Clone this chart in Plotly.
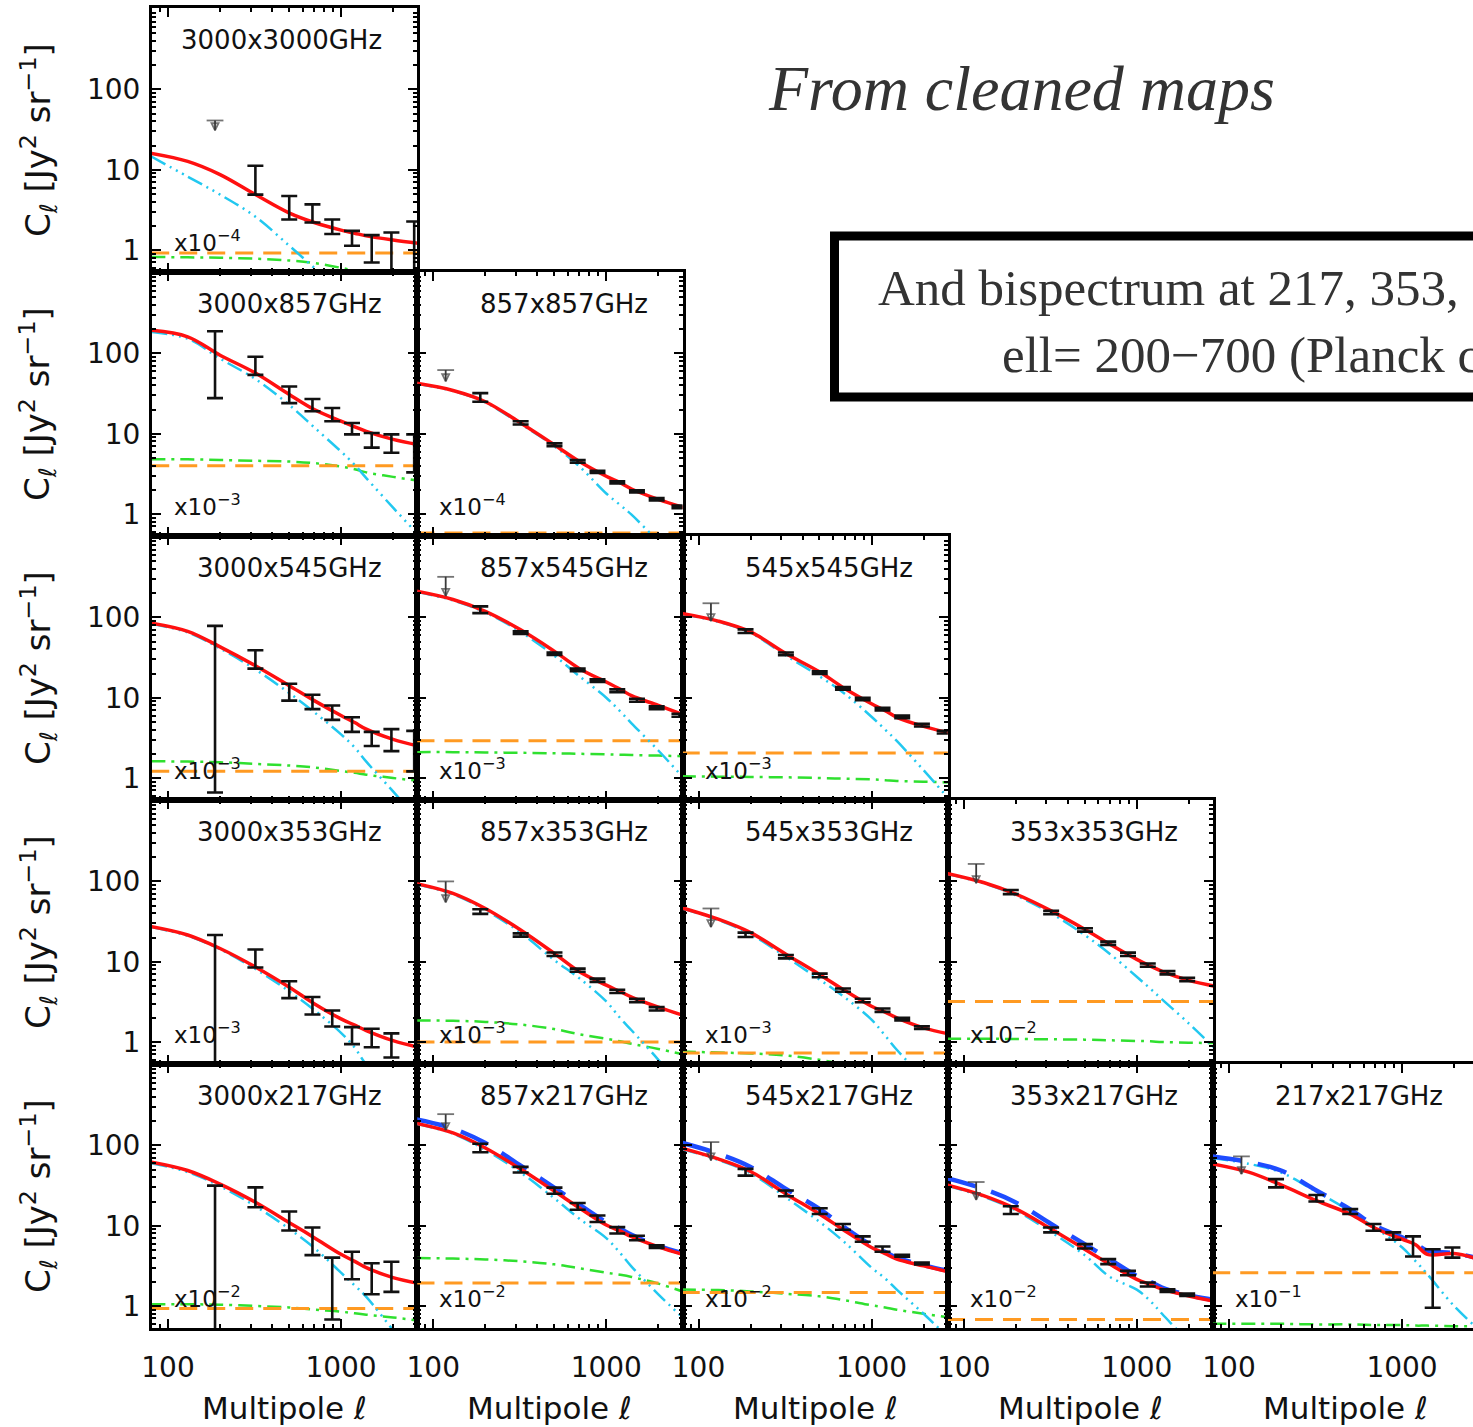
import plotly.graph_objects as go

# ---------------------------------------------------------------------------
# Measured band powers and halo-model fits of the CIB angular power spectra
# (C_ell in Jy^2 sr^-1, shown with the per-panel scale factor)
# ---------------------------------------------------------------------------

# multipole bin centres of the measured band powers
ELL_BINS = [118, 187, 320, 502, 684, 890, 1158, 1505, 1956, 2649]
# multipoles at which the model curves are tabulated
ELL_MODEL = [80, 130, 200, 320, 500, 700, 1000, 1200, 1400, 2000, 2800]

# ---- 3000x3000 GHz (x10^-4)
red_3000x3000 = [16, 12.7, 8.7, 4.9, 2.9, 2.2, 1.77, 1.62, 1.5, 1.33, 1.21]
cyan_3000x3000 = [14.6, 8.2, 4.9, 2.6, 1.14, 0.6, 0.3, 0.2, 0.13, 0.05, 0.02]
green_3000x3000 = [0.82, 0.81, 0.8, 0.78, 0.74, 0.69, 0.6, 0.55, 0.5, 0.4, 0.3]
shot_3000x3000 = 0.92
hi_3000x3000 = [None, None, 11.2, 4.7, 3.7, 2.4, 1.73, 1.53, 1.65, 2.26]
lo_3000x3000 = [None, None, 4.9, 2.4, 2.2, 1.58, 1.13, 0.70, 0.3, 0.3]
lim_3000x3000 = (187, 41, 31)

# ---- 3000x857 GHz (x10^-3)
red_3000x857 = [194, 161, 95, 57, 31, 20, 14.3, 12.2, 10.7, 8.5, 7.3]
cyan_3000x857 = [185, 152, 86, 48, 23, 12, 6.0, 4.1, 2.8, 1.2, 0.55]
green_3000x857 = [4.8, 4.8, 4.7, 4.6, 4.5, 4.3, 3.9, 3.6, 3.3, 2.9, 2.6]
shot_3000x857 = 4.0
hi_3000x857 = [None, 189, 91, 38.7, 27, 20.9, 13.6, 10.2, 9.8, 9.8]
lo_3000x857 = [None, 27.7, 54, 24, 19, 14.3, 9.8, 6.7, 5.8, 3.3]
lim_3000x857 = None

# ---- 857x857 GHz (x10^-4)
red_857x857 = [42.5, 34.5, 25, 13.6, 7.3, 4.5, 2.95, 2.45, 2.05, 1.52, 1.2]
cyan_857x857 = [42, 34, 24.5, 13.2, 7.0, 3.9, 1.8, 1.3, 0.98, 0.45, 0.2]
green_857x857 = [0.5, 0.5, 0.5, 0.5, 0.5, 0.5, 0.48, 0.47, 0.46, 0.43, 0.4]
shot_857x857 = 0.58
hi_857x857 = [None, 32, 14.3, 7.6, 4.7, 3.45, 2.55, 1.97, 1.58, 1.27]
lo_857x857 = [None, 25, 13.0, 7.0, 4.35, 3.25, 2.4, 1.85, 1.48, 1.18]
lim_857x857 = (118, 62, 45)

# ---- 3000x545 GHz (x10^-3)
red_3000x545 = [85, 67, 43, 25, 14.2, 9.2, 6.0, 4.9, 4.06, 3.03, 2.5]
cyan_3000x545 = [83, 65, 41, 22.5, 11.5, 6.6, 3.5, 2.4, 1.6, 0.68, 0.3]
green_3000x545 = [1.62, 1.6, 1.57, 1.5, 1.43, 1.35, 1.22, 1.16, 1.1, 1.0, 0.92]
shot_3000x545 = 1.21
hi_3000x545 = [None, 78.5, 39, 14.9, 10.9, 8.0, 5.7, 3.75, 4.06, 3.86]
lo_3000x545 = [None, 0.66, 23, 9.2, 7.2, 5.3, 3.75, 2.5, 2.16, 1.21]
lim_3000x545 = None

# ---- 857x545 GHz (x10^-3)
red_857x545 = [212, 167, 119, 70, 38, 23, 15.7, 12.8, 10.6, 8.0, 6.1]
cyan_857x545 = [208, 163, 115, 66, 33.5, 18.5, 10, 6.8, 4.8, 2.2, 1.0]
green_857x545 = [2.1, 2.1, 2.08, 2.06, 2.03, 2.0, 1.97, 1.95, 1.93, 1.9, 1.87]
shot_857x545 = 2.9
hi_857x545 = [None, 137, 67, 36.6, 23, 16.9, 12.7, 9.7, 7.8, 6.3]
lo_857x545 = [None, 113, 62, 34, 21.4, 15.7, 11.7, 8.9, 7.2, 5.8]
lim_857x545 = (118, 320, 185)

# ---- 545x545 GHz (x10^-3)
red_545x545 = [112, 90, 66, 35.5, 21, 13, 8.4, 6.9, 5.7, 4.4, 3.65]
cyan_545x545 = [110, 88, 64, 33.5, 18.5, 11.2, 5.8, 4.0, 2.9, 1.25, 0.55]
green_545x545 = [1.05, 1.04, 1.03, 1.02, 1.0, 0.98, 0.96, 0.94, 0.92, 0.9, 0.88]
shot_545x545 = 2.05
hi_545x545 = [None, 71, 36.5, 21.3, 13.6, 10, 7.5, 6.0, 4.73, 3.87]
lo_545x545 = [None, 64, 33.8, 19.8, 12.6, 9.3, 6.95, 5.57, 4.38, 3.58]
lim_545x545 = (118, 150, 90)

# ---- 3000x353 GHz (x10^-3)
red_3000x353 = [27.3, 21.5, 14.6, 8.6, 4.84, 3.0, 1.94, 1.62, 1.39, 1.04, 0.86]
cyan_3000x353 = [27, 21, 14.3, 8.1, 4.3, 2.5, 1.3, 0.85, 0.52, 0.22, 0.1]
green_3000x353 = [0.33, 0.33, 0.33, 0.32, 0.3, 0.28, 0.25, 0.24, 0.22, 0.2, 0.18]
shot_3000x353 = 0.42
hi_3000x353 = [None, 21.5, 14.2, 5.7, 3.63, 2.47, 1.53, 1.46, 1.28, None]
lo_3000x353 = [None, 0.3, 8.45, 3.52, 2.2, 1.56, 0.94, 0.86, 0.64, None]
lim_3000x353 = None

# ---- 857x353 GHz (x10^-3)
red_857x353 = [94, 71, 46, 24.8, 12.7, 7.5, 5.1, 4.25, 3.63, 2.72, 2.14]
cyan_857x353 = [92, 69, 44, 23, 10.5, 6.2, 3.2, 2.0, 1.4, 0.6, 0.25]
green_857x353 = [1.85, 1.84, 1.78, 1.65, 1.45, 1.25, 1.1, 1.02, 0.95, 0.82, 0.7]
shot_857x353 = 1.0
hi_857x353 = [None, 45, 22.5, 13.0, 8.2, 6.15, 4.48, 3.46, 2.72, None]
lo_857x353 = [None, 39.4, 20.5, 11.8, 7.5, 5.6, 4.07, 3.14, 2.47, None]
lim_857x353 = (118, 100, 55)

# ---- 545x353 GHz (x10^-3)
red_545x353 = [47, 33.8, 23, 12.4, 6.95, 4.38, 2.79, 2.35, 2.0, 1.5, 1.26]
cyan_545x353 = [46, 33, 22, 11.5, 6.0, 3.6, 1.9, 1.2, 0.8, 0.35, 0.15]
green_545x353 = [0.76, 0.74, 0.72, 0.68, 0.6, 0.53, 0.46, 0.42, 0.38, 0.3, 0.22]
shot_545x353 = 0.73
hi_545x353 = [None, 23, 12.1, 7.1, 4.64, 3.45, 2.61, 2.0, 1.57, None]
lo_545x353 = [None, 20.3, 11.0, 6.4, 4.22, 3.13, 2.37, 1.85, 1.45, None]
lim_545x353 = (118, 46, 27)

# ---- 353x353 GHz (x10^-2)
red_353x353 = [126, 97, 69.5, 43, 25.4, 16.5, 10.7, 8.8, 7.6, 5.85, 4.97]
cyan_353x353 = [124, 95, 67, 40, 21.5, 12.5, 6.5, 4.6, 3.4, 1.7, 0.85]
green_353x353 = [1.1, 1.1, 1.09, 1.08, 1.07, 1.05, 1.03, 1.02, 1.0, 0.98, 0.97]
shot_353x353 = 3.2
hi_353x353 = [None, 78, 43, 26.1, 17.8, 12.96, 9.5, 7.64, 6.3, None]
lo_353x353 = [None, 69.5, 39, 23.7, 16.2, 11.8, 8.66, 6.95, 5.73, None]
lim_353x353 = (118, 165, 95)

# ---- 3000x217 GHz (x10^-2)
red_3000x217 = [62, 48.7, 33, 19.6, 11, 7.1, 4.4, 3.6, 3.0, 2.26, 1.92]
cyan_3000x217 = [60, 46.5, 31, 17.5, 9.2, 5.3, 2.6, 1.8, 1.3, 0.5, 0.2]
green_3000x217 = [1.05, 1.05, 1.04, 1.0, 0.96, 0.9, 0.85, 0.81, 0.78, 0.72, 0.66]
shot_3000x217 = 0.93
hi_3000x217 = [None, 31.6, 30, 15, 9.5, 4.0, 4.73, 3.4, 3.55, None]
lo_3000x217 = [None, 0.3, 17, 8.7, 4.3, 0.68, 2.15, 1.4, 1.5, None]
lim_3000x217 = None

# ---- 857x217 GHz (x10^-2)
red_857x217 = [188, 143, 93, 50.7, 27, 16.6, 10.2, 8.6, 7.3, 5.45, 4.37]
blue_857x217 = [211, 162, 107, 56, 29.8, 18.3, 11.1, 9.2, 7.7, 5.6, 4.5]
cyan_857x217 = [185, 140, 88, 46, 22, 12.2, 7.0, 4.6, 3.1, 1.4, 0.7]
green_857x217 = [3.95, 3.9, 3.8, 3.6, 3.3, 2.95, 2.6, 2.45, 2.3, 1.9, 1.5]
shot_857x217 = 1.93
hi_857x217 = [None, 105, 54, 29.8, 19.2, 13.4, 9.6, 7.5, 5.7, None]
lo_857x217 = [None, 82, 46, 25, 15.8, 11.1, 8.0, 6.6, 5.3, None]
lim_857x217 = (118, 245, 155)

# ---- 545x217 GHz (x10^-2)
red_545x217 = [92.6, 68, 47.3, 24.9, 14, 8.66, 5.36, 4.5, 3.83, 3.16, 2.66]
blue_545x217 = [108, 79, 54, 28.7, 16.2, 9.5, 5.7, 4.7, 4.0, 3.22, 2.74]
cyan_545x217 = [90, 66, 45, 22.5, 11.2, 6.2, 3.0, 2.2, 1.6, 0.8, 0.4]
green_545x217 = [1.6, 1.58, 1.52, 1.42, 1.32, 1.18, 1.02, 0.96, 0.9, 0.8, 0.72]
shot_545x217 = 1.47
hi_545x217 = [None, 51, 27.4, 16.5, 10.5, 7.36, 5.5, 4.34, 3.48, None]
lo_545x217 = [None, 42, 23.3, 14.0, 8.9, 6.3, 4.73, 4.1, 3.29, None]
lim_545x217 = (118, 110, 65)

# ---- 353x217 GHz (x10^-2)
red_353x217 = [32.2, 23.7, 16.2, 9.1, 5.1, 3.3, 2.15, 1.85, 1.62, 1.33, 1.15]
blue_353x217 = [39, 28.7, 19.5, 10.5, 5.9, 3.8, 2.37, 2.0, 1.7, 1.36, 1.19]
cyan_353x217 = [31.5, 23, 15.5, 8.3, 4.3, 2.3, 1.6, 1.15, 0.8, 0.35, 0.15]
green_353x217 = [0.35, 0.35, 0.34, 0.34, 0.33, 0.33, 0.32, 0.32, 0.31, 0.3, 0.3]
shot_353x217 = 0.68
hi_353x217 = [None, 17.5, 9.5, 5.9, 3.83, 2.74, 1.96, 1.62, 1.43, None]
lo_353x217 = [None, 14.0, 8.26, 5.2, 3.32, 2.42, 1.75, 1.5, 1.33, None]
lim_353x217 = (118, 35, 21)

# ---- 217x217 GHz (x10^-1)
red_217x217 = [59, 46.4, 32.2, 20.5, 14, 9.3, 6.8, 5.8, 4.4, 4.5, 3.8]
blue_217x217 = [73, 62, 48.7, 27.4, 16.1, 10, 7.15, 5.9, 4.9, 4.55, 3.9]
cyan_217x217 = [70, 59, 46, 26.5, 15.2, 9.4, 5.4, 3.6, 2.5, 1.0, 0.5]
green_217x217 = [0.6, 0.6, 0.6, 0.59, 0.59, 0.58, 0.58, 0.57, 0.57, 0.56, 0.56]
shot_217x217 = 2.6
hi_217x217 = [None, 38, 24.1, 16.1, 10.5, 8.26, 7.36, 5.1, 5.36, None]
lo_217x217 = [None, 30, 20, 14, 8.66, 6.68, 4.14, 0.95, 4.0, None]
lim_217x217 = (118, 73, 44)

# panel grid: (row, col, title, scale exponent, red, cyan, green, shot, hi, lo, limit, blue)
PANELS = [
    (0, 0, "3000x3000GHz", "4", red_3000x3000, cyan_3000x3000, green_3000x3000, shot_3000x3000, hi_3000x3000, lo_3000x3000, lim_3000x3000, None),
    (1, 0, "3000x857GHz", "3", red_3000x857, cyan_3000x857, green_3000x857, shot_3000x857, hi_3000x857, lo_3000x857, lim_3000x857, None),
    (1, 1, "857x857GHz", "4", red_857x857, cyan_857x857, green_857x857, shot_857x857, hi_857x857, lo_857x857, lim_857x857, None),
    (2, 0, "3000x545GHz", "3", red_3000x545, cyan_3000x545, green_3000x545, shot_3000x545, hi_3000x545, lo_3000x545, lim_3000x545, None),
    (2, 1, "857x545GHz", "3", red_857x545, cyan_857x545, green_857x545, shot_857x545, hi_857x545, lo_857x545, lim_857x545, None),
    (2, 2, "545x545GHz", "3", red_545x545, cyan_545x545, green_545x545, shot_545x545, hi_545x545, lo_545x545, lim_545x545, None),
    (3, 0, "3000x353GHz", "3", red_3000x353, cyan_3000x353, green_3000x353, shot_3000x353, hi_3000x353, lo_3000x353, lim_3000x353, None),
    (3, 1, "857x353GHz", "3", red_857x353, cyan_857x353, green_857x353, shot_857x353, hi_857x353, lo_857x353, lim_857x353, None),
    (3, 2, "545x353GHz", "3", red_545x353, cyan_545x353, green_545x353, shot_545x353, hi_545x353, lo_545x353, lim_545x353, None),
    (3, 3, "353x353GHz", "2", red_353x353, cyan_353x353, green_353x353, shot_353x353, hi_353x353, lo_353x353, lim_353x353, None),
    (4, 0, "3000x217GHz", "2", red_3000x217, cyan_3000x217, green_3000x217, shot_3000x217, hi_3000x217, lo_3000x217, lim_3000x217, None),
    (4, 1, "857x217GHz", "2", red_857x217, cyan_857x217, green_857x217, shot_857x217, hi_857x217, lo_857x217, lim_857x217, blue_857x217),
    (4, 2, "545x217GHz", "2", red_545x217, cyan_545x217, green_545x217, shot_545x217, hi_545x217, lo_545x217, lim_545x217, blue_545x217),
    (4, 3, "353x217GHz", "2", red_353x217, cyan_353x217, green_353x217, shot_353x217, hi_353x217, lo_353x217, lim_353x217, blue_353x217),
    (4, 4, "217x217GHz", "1", red_217x217, cyan_217x217, green_217x217, shot_217x217, hi_217x217, lo_217x217, lim_217x217, blue_217x217),
]

X_TICKS = [100, 1000]
X_MINOR = [90, 200, 300, 400, 500, 600, 700, 800, 900, 2000]
Y_TICKS = [1, 10, 100]
Y_MINOR = [0.6, 0.7, 0.8, 0.9] + [m * d for d in (1, 10, 100) for m in range(2, 10)]

# ---------------------------------------------------------------------------
# page geometry (pixels)
# ---------------------------------------------------------------------------
W, H = 1473, 1427
COL_LEFT = [152, 417.25, 682.5, 947.75, 1213]
PANEL_W = 265.25
ROW_TOP = [8, 272, 536, 800, 1064]
PANEL_H = 264
PX_PER_DEC_X = 173.0
PX_PER_DEC_Y = 80.3
X_LOG0 = 2 - 16 / PX_PER_DEC_X          # ell = 100 sits 16 px from the left frame
Y_LOG0 = -22 / PX_PER_DEC_Y             # C = 1 sits 22 px above the lower frame

SANS = "DejaVu Sans"
SERIF = "Liberation Serif"
INK = "#111111"

RED = "#ff1010"
BLUE = "#1e4cff"
CYAN = "#22c8f0"
ORANGE = "#ff9a22"
GREEN = "#2fe02f"
LIMIT = "#3a3a3a"

fig = go.Figure()
layout = dict(
    width=W, height=H,
    margin=dict(l=0, r=0, t=0, b=0, pad=0, autoexpand=False),
    paper_bgcolor="white", plot_bgcolor="white",
    showlegend=False,
)
annotations = []

for n, (row, col, title, power, red, cyan, green, shot, hi, lo, lim, blue) in enumerate(PANELS, start=1):
    xref = "x" if n == 1 else f"x{n}"
    yref = "y" if n == 1 else f"y{n}"
    x0 = COL_LEFT[col]
    x1 = min(x0 + PANEL_W, W)
    y0 = ROW_TOP[row]
    y1 = y0 + PANEL_H
    last_col = x1 >= W

    layout["xaxis" if n == 1 else f"xaxis{n}"] = dict(
        type="log", domain=[x0 / W, x1 / W],
        range=[X_LOG0, X_LOG0 + (x1 - x0) / PX_PER_DEC_X],
        anchor=yref, showline=True, linecolor="black", linewidth=3, mirror="ticks",
        ticks="inside", ticklen=9, tickwidth=2, tickcolor="black",
        tickmode="array", tickvals=X_TICKS, ticktext=["100", "1000"],
        showticklabels=(row == 4), ticklabelstandoff=12, automargin=False,
        tickfont=dict(family=SANS, size=28, color=INK),
        minor=dict(ticks="inside", ticklen=4, tickwidth=1.5, tickcolor="black",
                   tickmode="array", tickvals=X_MINOR),
        showgrid=False, zeroline=False,
    )
    layout["yaxis" if n == 1 else f"yaxis{n}"] = dict(
        type="log", domain=[1 - y1 / H, 1 - y0 / H],
        range=[Y_LOG0, Y_LOG0 + PANEL_H / PX_PER_DEC_Y],
        anchor=xref, showline=True, linecolor="black", linewidth=3,
        mirror=False if last_col else "ticks",
        ticks="inside", ticklen=9, tickwidth=2, tickcolor="black",
        tickmode="array", tickvals=Y_TICKS, ticktext=["1", "10", "100"],
        showticklabels=(col == 0), ticklabelstandoff=3, automargin=False,
        tickfont=dict(family=SANS, size=28, color=INK),
        minor=dict(ticks="inside", ticklen=4, tickwidth=1.5, tickcolor="black",
                   tickmode="array", tickvals=Y_MINOR),
        showgrid=False, zeroline=False,
    )

    common = dict(xaxis=xref, yaxis=yref, hoverinfo="skip")

    # model components
    fig.add_trace(go.Scatter(x=ELL_MODEL, y=green, mode="lines",
                             line=dict(color=GREEN, width=2.5, dash="14px,6px,3px,6px", shape="spline"), **common))
    fig.add_trace(go.Scatter(x=[ELL_MODEL[0], ELL_MODEL[-1]], y=[shot, shot], mode="lines",
                             line=dict(color=ORANGE, width=3, dash="18px,10px"), **common))
    fig.add_trace(go.Scatter(x=ELL_MODEL, y=cyan, mode="lines",
                             line=dict(color=CYAN, width=2.5, dash="16px,5px,2px,5px,2px,5px,2px,5px",
                                       shape="spline"), **common))
    if blue is not None:
        fig.add_trace(go.Scatter(x=ELL_MODEL, y=blue, mode="lines",
                                 line=dict(color=BLUE, width=4.5, dash="30px,16px", shape="spline"), **common))
    fig.add_trace(go.Scatter(x=ELL_MODEL, y=red, mode="lines",
                             line=dict(color=RED, width=3.5, shape="spline"), **common))

    # upper limit on the lowest bin
    if lim is not None:
        ell_lim, cap, tip = lim
        fig.add_trace(go.Scatter(
            x=[ell_lim, ell_lim], y=[cap, tip], mode="lines+markers",
            line=dict(color=LIMIT, width=1.8),
            marker=dict(symbol=["line-ew", "arrow-down-open"], size=[12, 7], color=LIMIT,
                        line=dict(color=LIMIT, width=1.8)),
            **common))

    # measured band powers with 1-sigma bars
    xs, ys, ep, em = [], [], [], []
    for ell, h, l in zip(ELL_BINS, hi, lo):
        if h is None:
            continue
        mid = (h * l) ** 0.5
        xs.append(ell)
        ys.append(mid)
        ep.append(h - mid)
        em.append(mid - l)
    fig.add_trace(go.Scatter(
        x=xs, y=ys, mode="markers", marker=dict(size=1, color="rgba(0,0,0,0)"),
        error_y=dict(type="data", symmetric=False, array=ep, arrayminus=em,
                     color=INK, thickness=2.6, width=8),
        **common))

    # panel labels
    annotations.append(dict(
        text=title, xref="paper", yref="paper",
        x=(x0 + PANEL_W - 33) / W, y=1 - (y0 + 32) / H, xanchor="right", yanchor="middle",
        showarrow=False, font=dict(family=SANS, size=26, color=INK)))
    annotations.append(dict(
        text=f"x10<sup>\u2212{power}</sup>", xref="paper", yref="paper",
        x=(x0 + 20) / W, y=1 - (y1 - 31) / H, xanchor="left", yanchor="middle",
        showarrow=False, font=dict(family=SANS, size=23, color=INK)))

# axis titles
for row in range(5):
    annotations.append(dict(
        text="C<sub>\u2113</sub> [Jy<sup>2</sup> sr<sup>\u22121</sup>]",
        xref="paper", yref="paper", x=38 / W, y=1 - (ROW_TOP[row] + PANEL_H / 2) / H,
        xanchor="center", yanchor="middle", textangle=-90, showarrow=False,
        font=dict(family=SANS, size=34, color=INK)))
for col in range(5):
    annotations.append(dict(
        text="Multipole \u2113", xref="paper", yref="paper",
        x=(COL_LEFT[col] + PANEL_W / 2) / W, y=1 - 1408 / H,
        xanchor="center", yanchor="middle", showarrow=False,
        font=dict(family=SANS, size=31, color=INK)))

# headline and the framed note
annotations.append(dict(
    text="<i>From cleaned maps</i>", xref="paper", yref="paper",
    x=766 / W, y=1 - 88 / H, xanchor="left", yanchor="middle", showarrow=False,
    font=dict(family=SERIF, size=64, color="#333333")))
annotations.append(dict(
    text="And bispectrum at 217, 353, 545 GHz", xref="paper", yref="paper",
    x=876 / W, y=1 - 288 / H, xanchor="left", yanchor="middle", showarrow=False,
    font=dict(family=SERIF, size=51, color="#333333")))
annotations.append(dict(
    text="ell= 200\u2212700 (Planck collaboration 2013)", xref="paper", yref="paper",
    x=1000 / W, y=1 - 355 / H, xanchor="left", yanchor="middle", showarrow=False,
    font=dict(family=SERIF, size=51, color="#333333")))

layout["annotations"] = annotations
layout["shapes"] = [dict(
    type="rect", xref="paper", yref="paper",
    x0=834.5 / W, x1=1.3, y0=1 - 397 / H, y1=1 - 236 / H,
    line=dict(color="black", width=9), fillcolor="rgba(0,0,0,0)")]

fig.update_layout(**layout)
fig.write_html("out.html")
